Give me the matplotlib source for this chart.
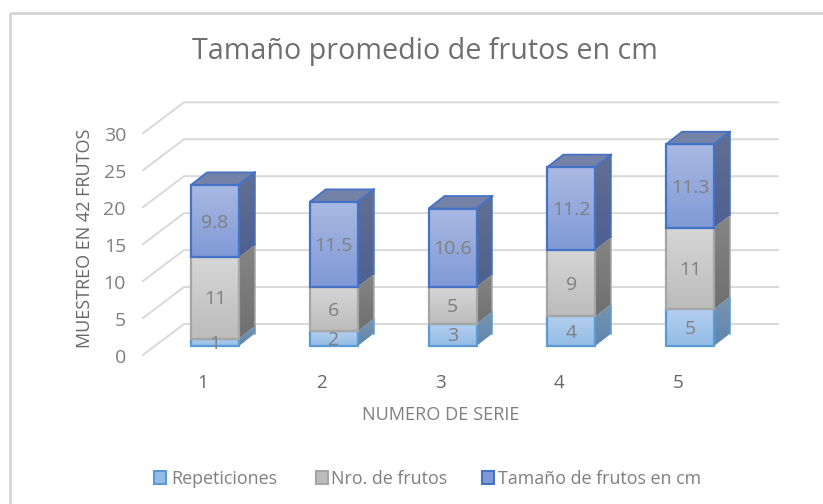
import numpy as np
import matplotlib
matplotlib.use("Agg")
import matplotlib.pyplot as plt
from matplotlib.patches import Polygon, Rectangle

categories = [1, 2, 3, 4, 5]
repeticiones = [1, 2, 3, 4, 5]
nro_frutos = [11, 6, 5, 9, 11]
tamano = [9.8, 11.5, 10.6, 11.2, 11.3]
labels_rep = ["1", "2", "3", "4", "5"]
labels_nro = ["11", "6", "5", "9", "11"]
labels_tam = ["9.8", "11.5", "10.6", "11.2", "11.3"]
y_ticks = [0, 5, 10, 15, 20, 25, 30]
series_names = ["Repeticiones", "Nro. de frutos", "Tamaño de frutos en cm"]
title = "Tamaño promedio de frutos en cm"
x_label = "NUMERO DE SERIE"
y_label = "MUESTREO EN 42 FRUTOS"

W, H = 823, 504
plt.rcParams["font.family"] = ["Open Sans", "DejaVu Sans"]
fig = plt.figure(figsize=(W / 100, H / 100), dpi=100, facecolor="white")
ax = fig.add_axes([0, 0, 1, 1])

# scales: category 1 centred at px 215, 118.75 px per category; value 0 at py 346, 7.39 px per unit
PX_X, PX_Y = 118.75, 7.39
ax.set_xlim(1 - 215 / PX_X, 1 + (W - 215) / PX_X)
ax.set_ylim(-(H - 346) / PX_Y, 346 / PX_Y)
ax.axis("off")

def dx(px):
    return px / PX_X

def dy(px):
    return px / PX_Y

GRID = "#d9d9d9"
TXT = "#7f7f7f"

# chart frame (left and top edges only are visible)
fr = dict(color="#d4d4d4", lw=2.0, transform=fig.transFigure, solid_capstyle="butt")
ax.plot([9.5 / W, 9.5 / W], [0, 1 - 12.5 / H], **fr)
ax.plot([9.5 / W, 1], [1 - 12.5 / H, 1 - 12.5 / H], **fr)

# 3D walls
wall_x0 = 1 + dx(143 - 215)
wall_x1 = 1 + dx(184 - 215)
wall_x2 = 1 + dx(778 - 215)
for v in y_ticks:
    ya = v - dy(9)
    yb = v + dy(22)
    ax.plot([wall_x0, wall_x1, wall_x2], [ya, yb, yb], color=GRID, lw=1.4, zorder=1,
            solid_joinstyle="miter")
    ax.text(1 + dx(126 - 215), v - dy(12), str(v), ha="right", va="center",
            fontsize=14, color=TXT)

BAR_W = 48 / PX_X
DEPTH_X = dx(16)
DEPTH_Y = dy(12.5)

STYLES = [
    dict(top="#b4cfee", bot="#93bce6", edge="#5b9bd5", side=("#7a94ae", "#5e86ae"), roof="#6d8fb2"),
    dict(top="#d6d6d6", bot="#bcbcbc", edge="#a5a5a5", side=("#858585", "#6f6f6f"), roof="#8a8a8a"),
    dict(top="#a9b9e2", bot="#8099d6", edge="#4472c4", side=("#636f93", "#4d6090"), roof="#7582a8"),
]

def gradient(poly, c1, c2, y0, y1, x0, x1, z):
    grad = np.linspace(0, 1, 64)[:, None]
    a = np.array(matplotlib.colors.to_rgb(c1))
    b = np.array(matplotlib.colors.to_rgb(c2))
    img = (a[None, None, :] * (1 - grad[..., None]) + b[None, None, :] * grad[..., None])
    im = ax.imshow(img, extent=(x0, x1, y0, y1), aspect="auto", origin="upper", zorder=z)
    im.set_clip_path(poly)

xlim, ylim = ax.get_xlim(), ax.get_ylim()
stack = [repeticiones, nro_frutos, tamano]
text_sets = [labels_rep, labels_nro, labels_tam]
for i, cat in enumerate(categories):
    base = 0.0
    for s, (vals, st) in enumerate(zip(stack, STYLES)):
        v = vals[i]
        l, r = cat - BAR_W / 2, cat + BAR_W / 2
        b, t = base, base + v
        z = 3 + s * 0.1
        # side face
        side = Polygon([(r, b), (r + DEPTH_X, b + DEPTH_Y), (r + DEPTH_X, t + DEPTH_Y), (r, t)],
                       closed=True, facecolor="none", edgecolor="none", zorder=z)
        ax.add_patch(side)
        gradient(side, st["side"][0], st["side"][1], b, t + DEPTH_Y, r, r + DEPTH_X, z)
        ax.plot([r + DEPTH_X, r + DEPTH_X], [b + DEPTH_Y, t + DEPTH_Y], color=st["edge"],
                lw=1.1, zorder=z + 0.02)
        # front face
        front = Rectangle((l, b), BAR_W, v, facecolor="none", edgecolor="none", zorder=z)
        ax.add_patch(front)
        gradient(front, st["top"], st["bot"], b, t, l, r, z + 0.01)
        ax.add_patch(Rectangle((l, b), BAR_W, v, facecolor="none", edgecolor=st["edge"],
                               lw=1.6, zorder=z + 0.03))
        # roof of the top segment
        if s == len(stack) - 1:
            ax.add_patch(Polygon([(l, t), (l + DEPTH_X, t + DEPTH_Y), (r + DEPTH_X, t + DEPTH_Y), (r, t)],
                                 closed=True, facecolor=st["roof"], edgecolor=st["edge"],
                                 lw=1.3, zorder=z + 0.02))
            ax.plot([r, r + DEPTH_X], [t, t + DEPTH_Y], color=st["edge"], lw=1.3, zorder=z + 0.04)
        ax.text(cat, base + v / 2 - dy(1.5), text_sets[s][i], ha="center", va="center",
                fontsize=14, color=TXT, zorder=6)
        base = t
    ax.text(cat - dx(12), dy(-37), str(cat), ha="center", va="center", fontsize=13.5, color="#666666")

ax.set_xlim(xlim)
ax.set_ylim(ylim)

def fx(px):
    return px / W

def fy(py):
    return 1 - py / H

fig.text(fx(425), fy(52), title, ha="center", va="center", fontsize=20.6, color="#6f6f6f")
fig.text(fx(441), fy(415), x_label, ha="center", va="center", fontsize=13.1, color=TXT)
fig.text(fx(85), fy(238), y_label, ha="center", va="center", rotation=90, fontsize=13, color="#666666")

# legend
leg_x = [153, 315, 481]
leg_txt = [171, 331, 498]
for x0, tx, st, name in zip(leg_x, leg_txt, STYLES, series_names):
    rect = Rectangle((fx(x0 + 0.5), fy(483.5)), 12.5 / W, 13 / H, transform=fig.transFigure,
                     facecolor=st["bot"], edgecolor=st["edge"], lw=1.5, zorder=6)
    ax.add_patch(rect)
    fig.text(fx(tx), fy(479), name, ha="left", va="center", fontsize=12.9, color=TXT)

fig.savefig("out.png", dpi=100, facecolor="white")
